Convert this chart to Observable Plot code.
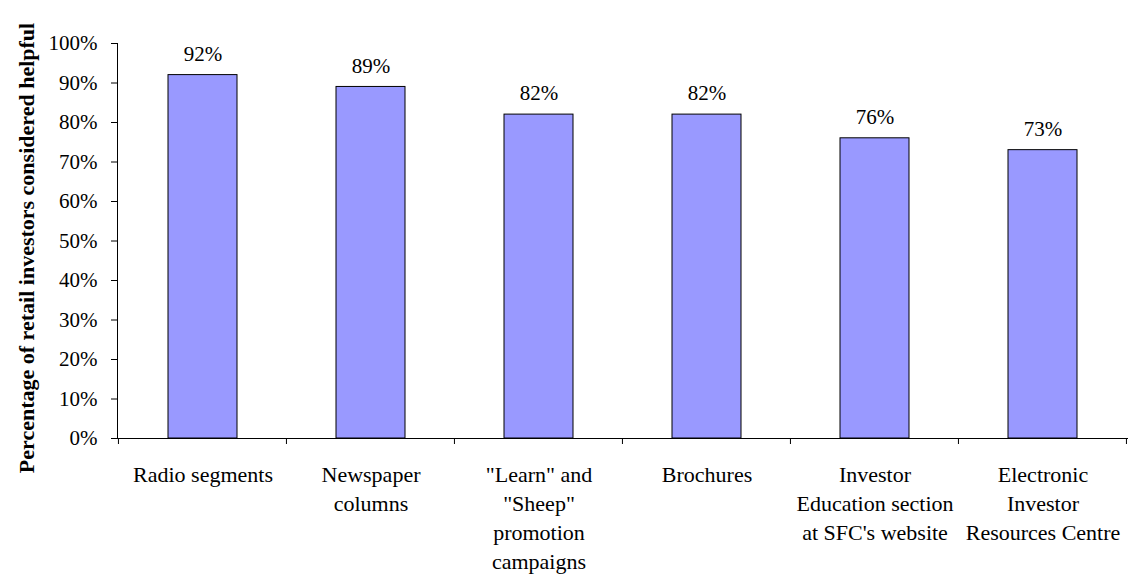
<!DOCTYPE html>
<html><head><meta charset="utf-8">
<script src="https://cdn.jsdelivr.net/npm/d3@7"></script>
<script src="https://cdn.jsdelivr.net/npm/@observablehq/plot@0.6"></script>
<style>
body{margin:0;background:#fff;}
</style></head><body><div id="chart"></div>
<script>
const categories = ["Radio segments", "Newspaper columns", "Learn and Sheep promotion campaigns", "Brochures", "Investor Education section at SFC's website", "Electronic Investor Resources Centre"];
const tickLabels = ["Radio segments", "Newspaper\ncolumns", "\"Learn\" and\n\"Sheep\"\npromotion\ncampaigns", "Brochures", "Investor\nEducation section\nat SFC's website", "Electronic\nInvestor\nResources Centre"];
const values = [0.92, 0.89, 0.82, 0.82, 0.76, 0.73];
const valueLabels = ["92%", "89%", "82%", "82%", "76%", "73%"];
const yTicks = [0, 0.1, 0.2, 0.3, 0.4, 0.5, 0.6, 0.7, 0.8, 0.9, 1.0];
const yTitle = ["Percentage of retail investors considered helpful"];

const data = categories.map((c, i) => ({category: c, value: values[i], label: valueLabels[i]}));
const labelOf = new Map(categories.map((c, i) => [c, tickLabels[i]]));

const padIn = 0.59;
const boundaryTicks = (index, scales, values, dims) => {
  const x = scales.x, y = scales.y;
  const step = x(categories[1]) - x(categories[0]);
  const gap = step * padIn;
  const pos = categories.map(c => x(c) - gap / 2);
  pos.push(x(categories[categories.length - 1]) + step - gap / 2);
  const y0 = y(0);
  const g = d3.create("svg:g");
  g.selectAll("line").data(pos).join("line")
    .attr("x1", d => d).attr("x2", d => d)
    .attr("y1", y0).attr("y2", y0 + 6)
    .attr("stroke", "black").attr("stroke-width", 1);
  return g.node();
};

const chart = Plot.plot({
  width: 1132,
  height: 576,
  marginLeft: 117,
  marginRight: 4,
  marginTop: 43,
  marginBottom: 138,
  style: {fontSize: "21px", fontFamily: "'Liberation Serif', serif", color: "black", background: "#fff"},
  x: {domain: categories, paddingInner: padIn, paddingOuter: padIn / 2, label: null},
  y: {domain: [0, 1], label: null},
  marks: [
    Plot.barY(data, {x: "category", y: "value", fill: "#9999FF", stroke: "black", strokeWidth: 1}),
    Plot.text(data, {x: "category", y: "value", text: "label", dy: -21, fontSize: 21, fill: "black"}),
    Plot.axisY({ticks: yTicks, tickFormat: d3.format(".0%"), tickSize: 6, tickPadding: 14, fontSize: 21, label: null}),
    Plot.axisX({tickSize: 0, tickPadding: 23, tickFormat: d => labelOf.get(d), lineHeight: 1.32, fontSize: 22, label: null}),
    Plot.ruleY([0], {stroke: "black", strokeWidth: 1}),
    Plot.frame({anchor: "left", stroke: "black", strokeWidth: 1}),
    boundaryTicks,
    Plot.text(yTitle, {frameAnchor: "left", text: d => d, rotate: -90, textAnchor: "middle", dx: -91, dy: 7, fontSize: 22, fontWeight: "bold", fill: "black"})
  ]
});
document.getElementById("chart").appendChild(chart);
</script>
</body></html>
